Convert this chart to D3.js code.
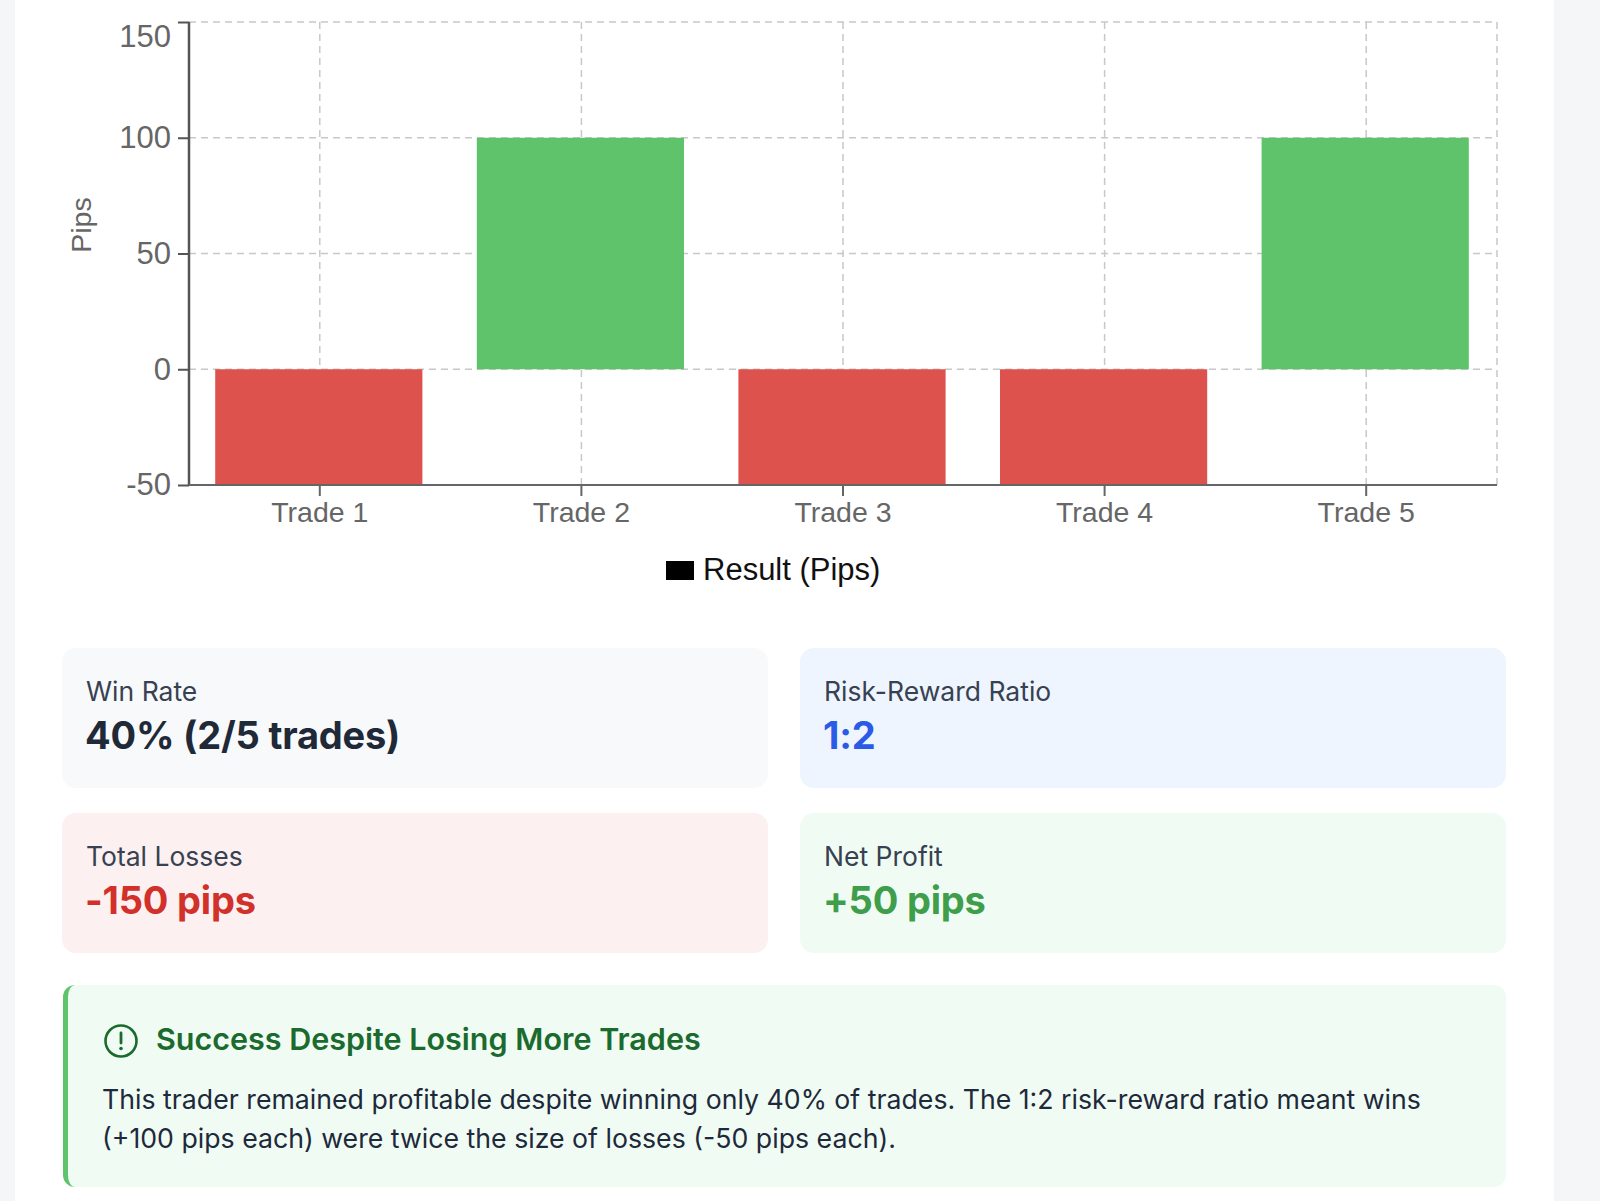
<!DOCTYPE html>
<html lang="en">
<head>
<meta charset="UTF-8">
<title>Trade Results</title>
<script src="https://cdn.jsdelivr.net/npm/d3@7"></script>
<style>
  html, body { margin: 0; padding: 0; }
  body { width: 1600px; height: 1201px; background: #f5f6f8; position: relative; overflow: hidden; font-family: Inter, "Noto Sans", sans-serif; }
  #sheet { position: absolute; left: 15px; top: 0; width: 1539px; height: 1201px; background: #fff; }
  #chart { position: absolute; left: 0; top: 0; }
  .card { position: absolute; border-radius: 14px; box-sizing: border-box; }
  .card .lbl { position: absolute; left: 24px; top: 27px; font-size: 26.5px; color: #374151; white-space: nowrap; }
  .card .val { position: absolute; left: 23px; top: 64px; font-size: 38px; font-weight: 700; white-space: nowrap; letter-spacing: -0.2px; }
  #note { position: absolute; left: 63px; top: 985px; width: 1443px; height: 202px; box-sizing: border-box;
          background: #f0fcf3; border-left: 5px solid #5ec36a; border-radius: 12px; }
  #note h3 { position: absolute; left: 88px; top: 35px; margin: 0; font-size: 30.5px; font-weight: 600; color: #1b6a2e; white-space: nowrap; }
  #note p { position: absolute; left: 34px; top: 95px; margin: 0; width: 1345px; font-size: 26.7px; line-height: 39px; color: #1e293b; }
</style>
</head>
<body>
<div id="sheet"></div>
<svg id="chart" width="1600" height="620"></svg>
<div id="cards"></div>
<div id="note">
  <svg width="40" height="40" style="position:absolute;left:33px;top:36px">
    <circle cx="20" cy="20" r="15.5" fill="none" stroke="#1b6a2e" stroke-width="2.6"></circle>
    <line x1="20" y1="12" x2="20" y2="22" stroke="#1b6a2e" stroke-width="2.8" stroke-linecap="round"></line>
    <circle cx="20" cy="27.5" r="1.8" fill="#1b6a2e"></circle>
  </svg>
  <h3>Success Despite Losing More Trades</h3>
  <p>This trader remained profitable despite winning only 40% of trades. The 1:2 risk-reward ratio meant wins (+100 pips each) were twice the size of losses (-50 pips each).</p>
</div>

<script>
    // chart data
    let trades = ["Trade 1", "Trade 2", "Trade 3", "Trade 4", "Trade 5"]
    let pips = [-50, 100, -50, -50, 100]
    let yTicks = [-50, 0, 50, 100, 150]
    let seriesName = "Result (Pips)"

    // stat cards
    let statLabels = ["Win Rate", "Risk-Reward Ratio", "Total Losses", "Net Profit"]
    let statValues = ["40% (2/5 trades)", "1:2", "-150 pips", "+50 pips"]

    let svg = d3.select("#chart")
    let plotLeft = 189, plotRight = 1497, plotTop = 22, plotBottom = 485

    let x = d3.scaleBand()
        .domain(trades)
        .range([plotLeft, plotRight])
        .paddingInner(0.208)
        .paddingOuter(0.104)

    let y = d3.scaleLinear()
        .domain([-50, 150])
        .range([plotBottom, plotTop])

    let center = d => x(d) + x.bandwidth() / 2
    let tickFont = "'Liberation Sans', Arial, sans-serif"

    // grid
    let grid = svg.append("g")
        .attr("stroke", "#c8c8c8")
        .attr("stroke-width", 1.5)
        .attr("stroke-dasharray", "7,5")

    grid.selectAll("line.h").data(yTicks.filter(t => t > -50))
        .enter().append("line")
        .attr("x1", plotLeft).attr("x2", plotRight)
        .attr("y1", d => y(d)).attr("y2", d => y(d))

    grid.selectAll("line.v").data(trades)
        .enter().append("line")
        .attr("x1", center).attr("x2", center)
        .attr("y1", plotTop).attr("y2", plotBottom)

    grid.append("line")
        .attr("x1", plotRight).attr("x2", plotRight)
        .attr("y1", plotTop).attr("y2", plotBottom)

    // bars
    svg.selectAll("rect.bar").data(pips)
        .enter().append("rect")
        .attr("class", "bar")
        .attr("x", (d, i) => x(trades[i]) - 1)
        .attr("width", x.bandwidth())
        .attr("y", d => y(Math.max(0, d)))
        .attr("height", d => Math.abs(y(d) - y(0)))
        .attr("fill", d => d < 0 ? "#de524e" : "#5ec36a")

    // axes
    let yAxis = svg.append("g")
        .attr("transform", `translate(${plotLeft},0)`)
        .call(d3.axisLeft(y).tickValues(yTicks).tickFormat(d => String(d)).tickSize(11).tickPadding(7))
    yAxis.select(".domain").attr("stroke", "#555").attr("stroke-width", 2.5)
        .attr("d", `M0,${plotTop}V${plotBottom}`)
    yAxis.selectAll(".tick line").attr("stroke", "#555").attr("stroke-width", 2)
    yAxis.selectAll("text").attr("fill", "#666")
        .style("font-family", tickFont).style("font-size", "31px")
    // top label is kept inside the canvas, like the original
    yAxis.selectAll(".tick").filter(d => d === 150).select("text").attr("dy", "0.32em").attr("y", 15)

    let xAxis = svg.append("g")
        .attr("transform", `translate(0,${plotBottom})`)
        .call(d3.axisBottom(x).tickSize(11).tickPadding(6))
    xAxis.select(".domain").attr("stroke", "#666").attr("stroke-width", 2)
        .attr("d", `M${plotLeft},0H${plotRight}`)
    xAxis.selectAll(".tick line").attr("stroke", "#666").attr("stroke-width", 2)
    xAxis.selectAll("text").attr("fill", "#666")
        .style("font-family", tickFont).style("font-size", "28.5px")

    // y title
    svg.append("text")
        .attr("transform", "translate(91,225) rotate(-90)")
        .attr("text-anchor", "middle")
        .attr("fill", "#666")
        .style("font-family", tickFont)
        .style("font-size", "28.5px")
        .text("Pips")

    // legend
    svg.append("rect")
        .attr("x", 666).attr("y", 561).attr("width", 28).attr("height", 19)
        .attr("fill", "#000")
    svg.append("text")
        .attr("x", 703).attr("y", 569)
        .attr("dominant-baseline", "central")
        .attr("fill", "#111")
        .style("font-family", tickFont)
        .style("font-size", "31px")
        .text(seriesName)

    // stat cards
    let cardX = [62, 800, 62, 800]
    let cardY = [648, 648, 813, 813]
    let cardBg = ["#f8f9fb", "#eef5ff", "#fcf0f0", "#f0fcf3"]
    let cardFg = ["#1f2937", "#2b5be6", "#d2302a", "#3f9e4b"]

    let cards = d3.select("#cards").selectAll("div.card").data(statLabels)
        .enter().append("div")
        .attr("class", "card")
        .style("left", (d, i) => cardX[i] + "px")
        .style("top", (d, i) => cardY[i] + "px")
        .style("width", "706px")
        .style("height", "140px")
        .style("background", (d, i) => cardBg[i])
    cards.append("div").attr("class", "lbl").text(d => d)
    cards.append("div").attr("class", "val")
        .style("color", (d, i) => cardFg[i])
        .text((d, i) => statValues[i])
</script>
</body>
</html>
